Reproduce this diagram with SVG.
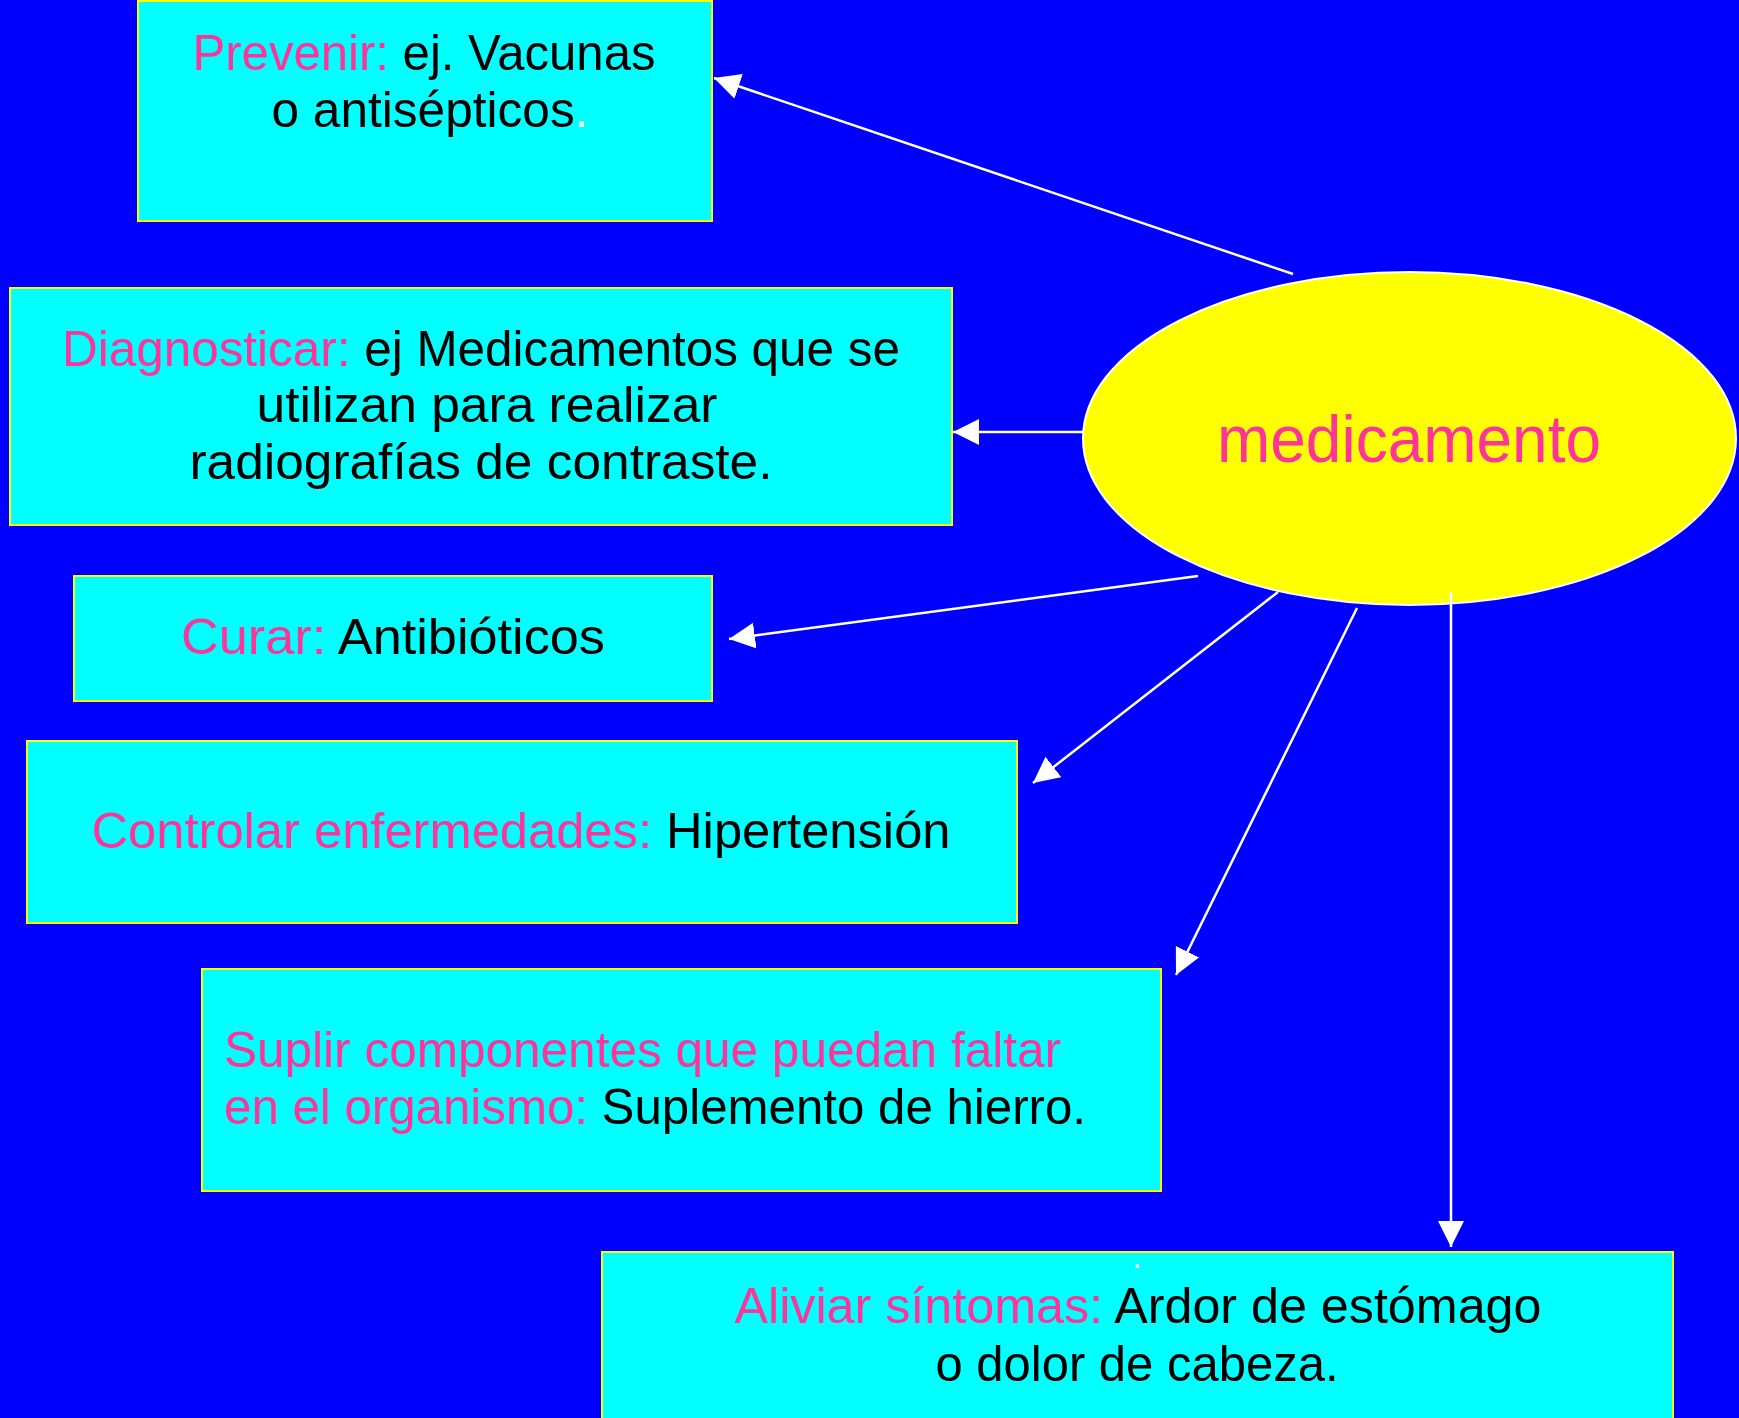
<svg xmlns="http://www.w3.org/2000/svg" width="1739" height="1418" viewBox="0 0 1739 1418">
  <defs>
    <style>
      .box { fill: #00FFFF; stroke: #FFFF00; stroke-width: 2; }
      .t { font-family: 'Comic Sans MS', 'Liberation Sans', sans-serif; font-size: 50px; fill: #000000; }
      .k { fill: #FF3399; }
      .w { fill: #FFFFFF; }
      .conn { stroke: #FFFFFF; stroke-width: 2.5; fill: none; marker-end: url(#arrow); }
    </style>
    <marker id="arrow" markerUnits="userSpaceOnUse" markerWidth="27" markerHeight="27" refX="26" refY="13" orient="auto">
      <path d="M0,0 L26,13 L0,26 Z" fill="#FFFFFF"/>
    </marker>
  </defs>
  <rect x="0" y="0" width="1739" height="1418" fill="#0000FF"/>

  <g id="node-prevenir">
    <rect class="box" x="138" y="1" width="574" height="220"/>
    <text class="t" x="424" y="70" text-anchor="middle" textLength="463" lengthAdjust="spacingAndGlyphs"><tspan class="k">Prevenir:</tspan> ej. Vacunas</text>
    <text class="t" x="430" y="127" text-anchor="middle" textLength="317" lengthAdjust="spacingAndGlyphs">o antisépticos<tspan class="w">.</tspan></text>
  </g>

  <g id="node-diagnosticar">
    <rect class="box" x="10" y="288" width="942" height="237"/>
    <text class="t" x="481" y="366" text-anchor="middle" textLength="838" lengthAdjust="spacingAndGlyphs"><tspan class="k">Diagnosticar:</tspan> ej Medicamentos que se</text>
    <text class="t" x="487" y="422" text-anchor="middle" textLength="461" lengthAdjust="spacingAndGlyphs">utilizan para realizar</text>
    <text class="t" x="481" y="479" text-anchor="middle" textLength="583" lengthAdjust="spacingAndGlyphs">radiografías de contraste.</text>
  </g>

  <g id="node-medicamento">
    <ellipse cx="1409.5" cy="438.5" rx="326.5" ry="166.5" fill="#FFFF00" stroke="#FFFFFF" stroke-width="2"/>
    <text class="t k" x="1409" y="462" text-anchor="middle" style="font-size:66px" textLength="384" lengthAdjust="spacingAndGlyphs">medicamento</text>
  </g>

  <g id="node-curar">
    <rect class="box" x="74" y="576" width="638" height="125"/>
    <text class="t" x="393" y="654" text-anchor="middle" textLength="424" lengthAdjust="spacingAndGlyphs"><tspan class="k">Curar:</tspan> Antibióticos</text>
  </g>

  <g id="node-controlar">
    <rect class="box" x="27" y="741" width="990" height="182"/>
    <text class="t" x="521" y="848" text-anchor="middle" textLength="859" lengthAdjust="spacingAndGlyphs"><tspan class="k">Controlar enfermedades:</tspan> Hipertensión</text>
  </g>

  <g id="node-suplir">
    <rect class="box" x="202" y="969" width="959" height="222"/>
    <text class="t k" x="224" y="1067" textLength="837" lengthAdjust="spacingAndGlyphs">Suplir componentes que puedan faltar</text>
    <text class="t" x="224" y="1124" textLength="862" lengthAdjust="spacingAndGlyphs"><tspan class="k">en el organismo:</tspan> Suplemento de hierro.</text>
  </g>

  <g id="node-aliviar">
    <rect class="box" x="602" y="1252" width="1071" height="190"/>
    <text class="t w" x="1137" y="1268" text-anchor="middle" style="font-size:34px">.</text>
    <text class="t" x="1138" y="1323" text-anchor="middle" textLength="807" lengthAdjust="spacingAndGlyphs"><tspan class="k">Aliviar síntomas:</tspan> Ardor de estómago</text>
    <text class="t" x="1137" y="1381" text-anchor="middle" textLength="403" lengthAdjust="spacingAndGlyphs">o dolor de cabeza.</text>
  </g>

  <g id="connectors">
    <line class="conn" x1="1293" y1="274" x2="714" y2="78"/>
    <line class="conn" x1="1083" y1="432" x2="953" y2="432"/>
    <line class="conn" x1="1198" y1="576" x2="729" y2="639"/>
    <line class="conn" x1="1278" y1="592" x2="1033" y2="783"/>
    <line class="conn" x1="1357" y1="608" x2="1176" y2="975"/>
    <line class="conn" x1="1451" y1="592" x2="1451" y2="1247"/>
  </g>
</svg>
